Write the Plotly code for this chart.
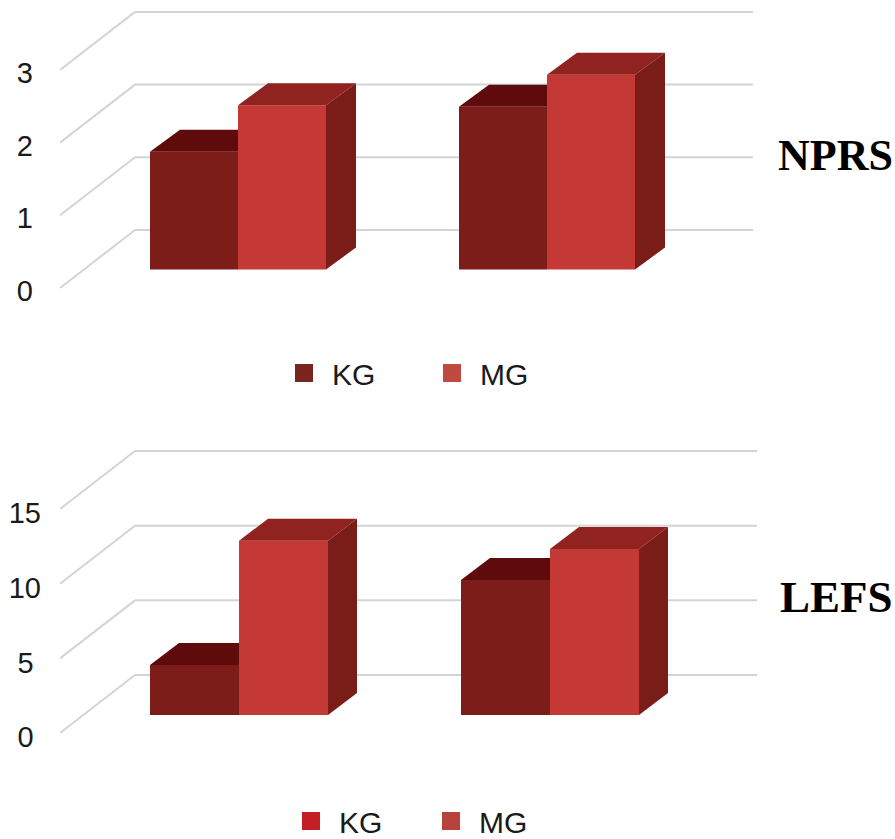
import plotly.graph_objects as go

# Data
GROUPS = [0, 1]
NPRS_KG = [1.62, 2.24]
NPRS_MG = [2.26, 2.68]
LEFS_KG = [3.35, 9.04]
LEFS_MG = [11.67, 11.12]
SERIES_NAMES = ["KG", "MG"]
NPRS_TICKS = [0, 1, 2, 3]
NPRS_TICK_TEXT = ["0", "1", "2", "3"]
LEFS_TICKS = [0, 5, 10, 15]
LEFS_TICK_TEXT = ["0\u2005", "5\u2005", "10", "15"]

# Colours
KG_FRONT, KG_TOP = "#7c1d19", "#5f0a0b"
MG_FRONT, MG_TOP, MG_SIDE = "#c43835", "#902320", "#7a1c18"
GRID = "#d2d4d6"
W, H = 895, 839
FONT = "Liberation Sans"

fig = go.Figure()


def panel(n, kg, mg, ticks, ticktext, px_top, px_bot, px0, px_per_unit, cx0, dxp, barw,
          depth_x, depth_rise, base_y, wall_x, grid_end, front_off, back_rise, standoff):
    xa, ya = ("x", "y") if n == 1 else (f"x{n}", f"y{n}")
    v = lambda p: (px0 - p) / px_per_unit
    X = lambda p: (p - cx0) / dxp
    base = v(base_y)
    bw = barw / dxp
    dx = depth_x / dxp
    rise = depth_rise / px_per_unit

    fig.add_trace(go.Bar(x=GROUPS, y=kg, base=base, width=bw, offset=-bw, name="KG", xaxis=xa, yaxis=ya,
                         marker=dict(color=KG_FRONT, line_width=0), showlegend=False))
    fig.add_trace(go.Bar(x=GROUPS, y=mg, base=base, width=bw, offset=0, name="MG", xaxis=xa, yaxis=ya,
                         marker=dict(color=MG_FRONT, line_width=0), showlegend=False))

    def poly(xs, ys, color):
        fig.add_trace(go.Scatter(x=xs, y=ys, mode="lines", fill="toself", fillcolor=color,
                                 line=dict(width=0, color=color), hoverinfo="skip",
                                 showlegend=False, xaxis=xa, yaxis=ya))

    for g, k, m in zip(GROUPS, kg, mg):
        # KG top, clipped where the MG front face hides it
        tk = base + k
        poly([g - bw, g, g, g - bw + dx, g - bw], [tk, tk, tk + rise, tk + rise, tk], KG_TOP)
        tm = base + m
        poly([g, g + bw, g + bw + dx, g + dx, g], [tm, tm, tm + rise, tm + rise, tm], MG_TOP)
        poly([g + bw, g + bw + dx, g + bw + dx, g + bw, g + bw],
             [base, base + rise, tm + rise, tm, base], MG_SIDE)

    for t in ticks:
        line = dict(color=GRID, width=2)
        fig.add_shape(type="line", layer="below", xref=xa, yref=ya, x0=X(60), x1=X(wall_x),
                      y0=t + front_off / px_per_unit, y1=t + back_rise / px_per_unit, line=line)
        fig.add_shape(type="line", layer="below", xref=xa, yref=ya, x0=X(wall_x), x1=X(grid_end),
                      y0=t + back_rise / px_per_unit, y1=t + back_rise / px_per_unit, line=line)

    sfx = "" if n == 1 else str(n)
    fig.update_layout({
        f"xaxis{sfx}": dict(domain=[60 / W, 1], range=[X(60), X(W)], showgrid=False, zeroline=False,
                            showticklabels=False, showline=False, ticks="", anchor=ya, fixedrange=True),
        f"yaxis{sfx}": dict(domain=[1 - px_bot / H, 1 - px_top / H], range=[v(px_bot), v(px_top)],
                            showgrid=False, zeroline=False, showline=False, ticks="", anchor=xa,
                            tickmode="array", tickvals=ticks, ticktext=ticktext, fixedrange=True,
                            ticklabelstandoff=standoff,
                            tickfont=dict(family=FONT, size=29, color="#1a1a1a")),
    })


panel(1, NPRS_KG, NPRS_MG, NPRS_TICKS, NPRS_TICK_TEXT, 0, 340, 291, 72.7, 238, 309, 88,
      30, 22, 269.5, 135, 753, 3, 61, 26)
panel(2, LEFS_KG, LEFS_MG, LEFS_TICKS, LEFS_TICK_TEXT, 430, 790, 737, 14.93, 239, 311, 89,
      29, 22, 715, 135, 757, 4, 62, 18)


def legend_items(colors, legend):
    for name, c in zip(SERIES_NAMES, colors):
        fig.add_trace(go.Scatter(x=[None], y=[None], mode="markers", name=name, legend=legend,
                                 marker=dict(symbol="square", size=16, color=c, line=dict(color=c, width=2))))


legend_items(["#7a2420", "#c04a3f"], "legend")
legend_items(["#c31f24", "#b8433a"], "legend2")


def legend_cfg(px_x, px_y, entry):
    return dict(orientation="h", x=px_x / W, y=1 - px_y / H, xanchor="left", yanchor="middle",
                itemwidth=46, entrywidth=entry, entrywidthmode="pixels", itemclick=False,
                itemdoubleclick=False, bgcolor="rgba(0,0,0,0)",
                font=dict(family=FONT, size=30, color="#1a1a1a"))


fig.update_layout(
    width=W, height=H, margin=dict(l=0, r=0, t=0, b=0, autoexpand=False), autosize=False,
    paper_bgcolor="white", plot_bgcolor="rgba(0,0,0,0)", barmode="overlay", hovermode=False,
    legend=legend_cfg(276, 373, 87),
    legend2=legend_cfg(283, 821, 79),
    annotations=[
        dict(text="<b>NPRS</b>", xref="paper", yref="paper", x=835.5 / W, y=1 - 156 / H, showarrow=False,
             xanchor="center", yanchor="middle", font=dict(family="Liberation Serif", size=44, color="black")),
        dict(text="<b>LEFS</b>", xref="paper", yref="paper", x=836 / W, y=1 - 597 / H, showarrow=False,
             xanchor="center", yanchor="middle", font=dict(family="Liberation Serif", size=45, color="black")),
    ],
)

fig.write_html("out.html", config={"displayModeBar": False},
               post_script="document.body.style.margin='0';document.documentElement.style.overflow='hidden';")
